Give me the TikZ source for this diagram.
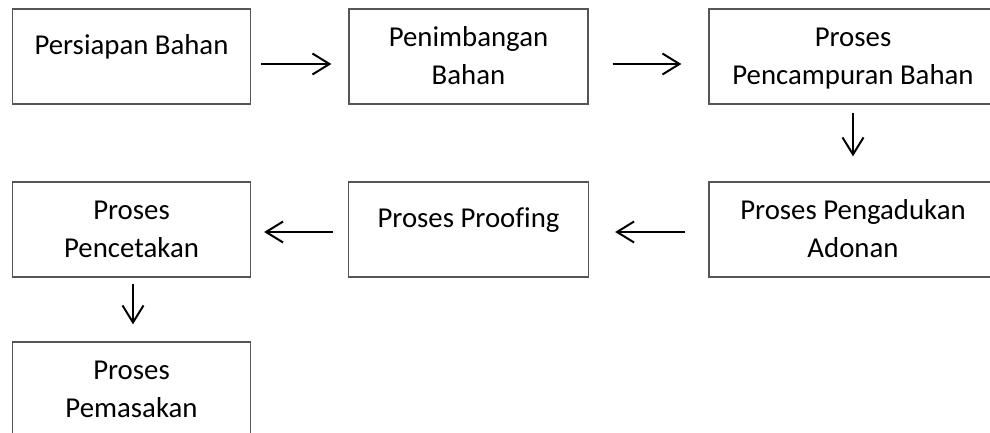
\documentclass[tikz,border=0pt]{standalone}
\usepackage{fontspec}
\setmainfont[Ligatures=NoCommon]{Carlito}
\usetikzlibrary{arrows.meta}
\definecolor{boxgray}{RGB}{85,85,85}
\tikzset{
  box/.style={draw=boxgray, line width=1.3pt, rectangle, inner sep=0pt, minimum height=95pt},
  txt/.style={anchor=base, inner sep=0pt, font=\fontsize{28.8}{36}\selectfont, text=black},
  arr/.style={draw=black, line width=2pt, -{Straight Barb[length=17pt,width=21pt]}}
}
\begin{document}
\begin{tikzpicture}[x=1pt,y=-1pt]
\useasboundingbox (0,0) rectangle (990,433);
\clip (0,0) rectangle (990,433);
% boxes
\node[box, minimum width=238pt] (b1) at (131.5,56.5) {};
\node[box, minimum width=239pt] (b2) at (468.5,56.5) {};
\node[box, minimum width=288pt] (b3) at (853,56.5) {};
\node[box, minimum width=288pt] (b4) at (853,229.5) {};
\node[box, minimum width=240pt] (b5) at (468.5,229.5) {};
\node[box, minimum width=238pt] (b6) at (131.5,229.5) {};
\node[box, minimum width=238pt] (b7) at (131.5,389.5) {};
% texts
\node[txt] (t1) at ([yshift=-46pt]b1.north) {Persiapan Bahan};
\node[txt] (t2a) at ([yshift=-38.5pt]b2.north) {Penimbangan};
\node[txt] (t2b) at ([yshift=-76pt]b2.north) {Bahan};
\node[txt] (t3a) at ([yshift=-38.5pt]b3.north) {Proses};
\node[txt] (t3b) at ([yshift=-76pt]b3.north) {Pencampuran Bahan};
\node[txt] (t4a) at ([yshift=-38.5pt]b4.north) {Proses Pengadukan};
\node[txt] (t4b) at ([yshift=-76pt]b4.north) {Adonan};
\node[txt] (t5) at ([yshift=-46pt]b5.north) {Proses Proofing};
\node[txt] (t6a) at ([yshift=-38.5pt]b6.north) {Proses};
\node[txt] (t6b) at ([yshift=-76pt]b6.north) {Pencetakan};
\node[txt] (t7a) at ([yshift=-38.5pt]b7.north) {Proses};
\node[txt] (t7b) at ([yshift=-76pt]b7.north) {Pemasakan};
% arrows
\draw[arr, shorten <=10pt, shorten >=17pt] ([yshift=-7.5pt]b1.east) -- ([yshift=-7.5pt]b2.west);
\draw[arr, shorten <=24pt, shorten >=27pt] ([yshift=-7.5pt]b2.east) -- ([yshift=-7.5pt]b3.west);
\draw[arr, shorten <=8pt, shorten >=25pt] (b3.south) -- (b4.north);
\draw[arr, shorten <=23pt, shorten >=26pt] ([yshift=-2.5pt]b4.west) -- ([yshift=-2.5pt]b5.east);
\draw[arr, shorten <=15pt, shorten >=13pt] ([yshift=-2.5pt]b5.west) -- ([yshift=-2.5pt]b6.east);
\draw[arr, shorten <=6pt, shorten >=17pt] ([xshift=1.5pt]b6.south) -- ([xshift=1.5pt]b7.north);
\end{tikzpicture}
\end{document}
